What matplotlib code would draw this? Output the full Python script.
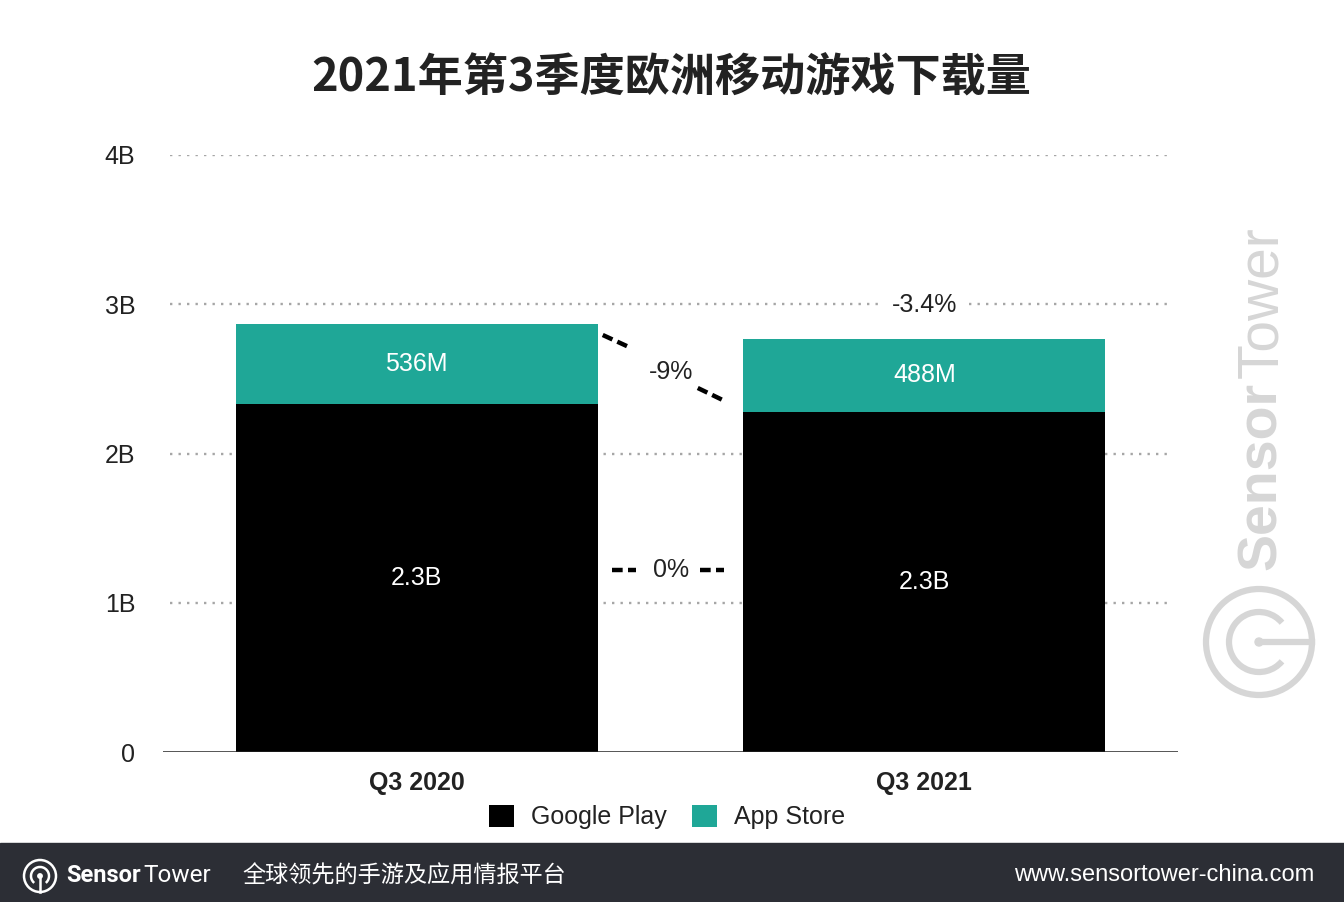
import matplotlib
matplotlib.use("Agg")
import matplotlib.pyplot as plt
from matplotlib.patches import Patch, Circle, Arc, Rectangle
import numpy as np

plt.rcParams['font.family'] = ['Liberation Sans', 'Noto Sans CJK SC', 'DejaVu Sans']

# Data (billions of downloads)
quarters = ["Q3 2020", "Q3 2021"]
google_play = [2.33, 2.28]
app_store = [0.536, 0.488]
gp_labels = ["2.3B", "2.3B"]
as_labels = ["536M", "488M"]
change_total = "-3.4%"
change_as = "-9%"
change_gp = "0%"

TEAL = "#1fa797"
TEXT = "#222222"
GRID = "#a6a6a6"

fig = plt.figure(figsize=(13.44, 9.02), dpi=100)

# decoration layer in pixel coords (footer + watermark)
deco = fig.add_axes([0, 0, 1, 1], zorder=-1)
deco.set_xlim(0, 1344)
deco.set_ylim(0, 902)
deco.axis("off")

ax = fig.add_axes([163/1344, 150/902, 1015/1344, 597/902])
ax.set_facecolor("none")
x = np.arange(len(quarters))
w = 0.713
ax.bar(x, google_play, w, color="black", zorder=3)
ax.bar(x, app_store, w, bottom=google_play, color=TEAL, zorder=3)

for i in range(len(quarters)):
    ax.text(x[i], google_play[i] / 2, gp_labels[i], color="white", fontsize=18,
            ha="center", va="center", zorder=5)
    ax.text(x[i], google_play[i] + app_store[i] / 2, as_labels[i], color="white",
            fontsize=18, ha="center", va="center", zorder=5)

# dotted gridlines
ax.hlines([1, 2, 3, 4], -0.487, 1.484, colors=GRID, linestyles=(0, (1, 2.6)),
          lw=1.7, zorder=1)
ax.axhline(0, color=TEXT, lw=1.8, zorder=4)

ax.set_xlim(-0.5, 1.5)
ax.set_ylim(0, 4)
ax.set_yticks([0, 1, 2, 3, 4])
ax.set_yticklabels(["0", "1B", "2B", "3B", "4B"])
ax.set_xticks(x)
ax.set_xticklabels(quarters, fontweight="bold")
ax.tick_params(axis="y", length=0, pad=20, labelsize=18, labelcolor=TEXT)
ax.tick_params(axis="x", length=0, pad=14, labelsize=18, labelcolor=TEXT)
for s in ax.spines.values():
    s.set_visible(False)

# change annotations
ax.text(1.0, 2.995, change_total, fontsize=18, color=TEXT, ha="center", va="center",
        zorder=5, bbox=dict(facecolor="white", edgecolor="none", pad=6))
ax.text(0.502, 2.546, change_as, fontsize=18, color=TEXT, ha="center", va="center", zorder=5)
ax.text(0.502, 1.219, change_gp, fontsize=18, color=TEXT, ha="center", va="center", zorder=5)
dash = (0, (2.4, 1.2))
ax.plot([0.3665, 0.4177], [2.794, 2.714], color="black", lw=3.2, ls=dash, zorder=5)
ax.plot([0.5537, 0.6030], [2.439, 2.358], color="black", lw=3.2, ls=dash, zorder=5)
ax.plot([0.384, 0.432], [1.219, 1.219], color="black", lw=3.2, ls=dash, zorder=5)
ax.plot([0.5576, 0.6064], [1.219, 1.219], color="black", lw=3.2, ls=dash, zorder=5)

# title
fig.text(671/1344, 1 - 78/902, "2021年第3季度欧洲移动游戏下载量", fontsize=32.5,
         fontweight="bold", family=["Noto Sans CJK SC"], color=TEXT,
         ha="center", va="center")

# legend
handles = [Patch(facecolor="black"), Patch(facecolor=TEAL)]
fig.legend(handles, ["Google Play", "App Store"], loc="center",
           bbox_to_anchor=(667/1344, 1 - 817/902), ncol=2, frameon=False,
           fontsize=18, handlelength=1.0, handleheight=1.0, handletextpad=0.7,
           columnspacing=1.0, labelcolor=TEXT)

# footer band
deco.add_patch(Rectangle((0, 0), 1344, 59, color="#2c2e35", zorder=1))
fc = (40, 26)
deco.add_patch(Circle(fc, 16, fill=False, ec="white", lw=1.8, zorder=2))
deco.add_patch(Arc(fc, 18, 18, theta1=-50, theta2=230, ec="white", lw=1.8, zorder=2))
deco.plot([40, 40], [26, 10], color="white", lw=1.8, zorder=2)
deco.add_patch(Circle(fc, 2.2, color="white", zorder=2))
deco.text(66, 27, "Sensor", color="white", fontsize=17, fontweight="bold",
          family=["Roboto"], ha="left", va="center", zorder=3)
deco.text(143, 27, "Tower", color="white", fontsize=17.5,
          family=["Roboto"], ha="left", va="center", zorder=3)
deco.text(242, 26, "全球领先的手游及应用情报平台", color="white", fontsize=16.7,
          family=["Noto Sans CJK SC"], ha="left", va="center", zorder=3)
deco.text(1314, 27, "www.sensortower-china.com", color="white", fontsize=17,
          ha="right", va="center", zorder=3)

# watermark: "Sensor" bold + "Tower" regular, joined
WM = "#d6d6d6"
t1 = deco.text(1262, 902 - 570, "Sensor", color=WM, fontsize=40, fontweight="bold",
               rotation=90, ha="center", va="bottom", zorder=1)
fig.canvas.draw()
bb = t1.get_window_extent()
top = deco.transData.inverted().transform((0, bb.y1))[1]
deco.text(1262, top + 4, "Tower", color=WM, fontsize=41,
          rotation=90, ha="center", va="bottom", zorder=1)
wc = (1259, 902 - 642)
deco.add_patch(Circle(wc, 53, fill=False, ec=WM, lw=4.5, zorder=1))
deco.add_patch(Arc(wc, 60, 60, theta1=40, theta2=320, ec=WM, lw=4.5, zorder=1))
deco.plot([1259, 1312], [902 - 642, 902 - 642], color=WM, lw=4.5, zorder=1)
deco.add_patch(Circle(wc, 4, color=WM, zorder=1))

fig.savefig("out.png", dpi=100, facecolor="white")
